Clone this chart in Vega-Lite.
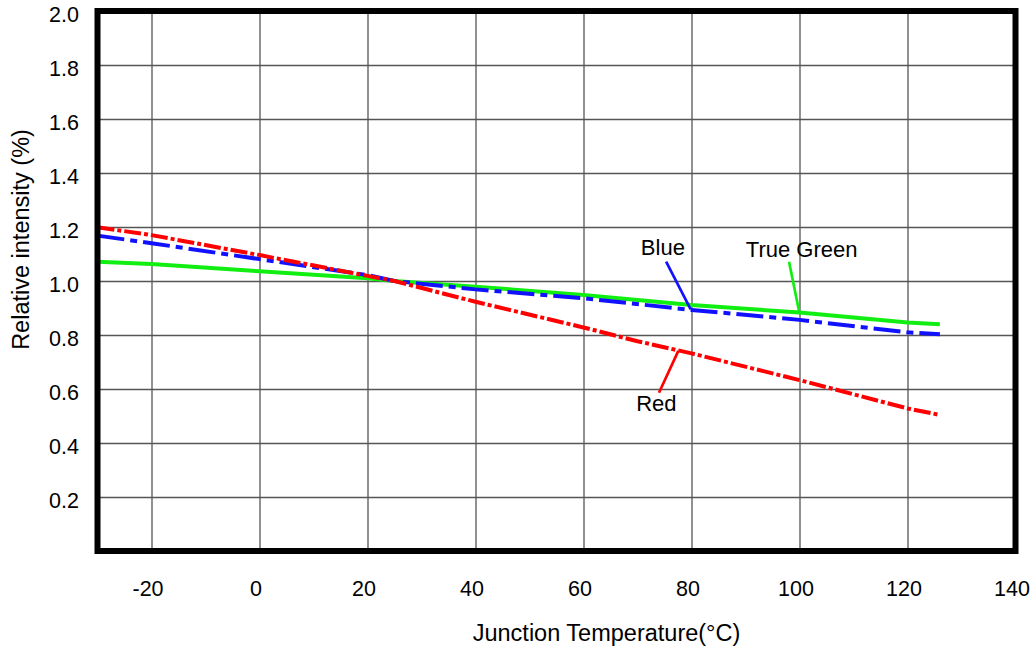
{
  "$schema": "https://vega.github.io/schema/vega-lite/v6.json",
  "width": 918,
  "height": 540,
  "autosize": {"type": "none"},
  "padding": {"left": 97.5, "top": 11, "right": 18.5, "bottom": 95},
  "background": "white",
  "datasets": {
    "lines": [
      {"series": "True Green", "t": -30, "v": 1.071},
      {"series": "True Green", "t": -20, "v": 1.063},
      {"series": "True Green", "t": 0, "v": 1.036},
      {"series": "True Green", "t": 20, "v": 1.010},
      {"series": "True Green", "t": 25, "v": 1.0},
      {"series": "True Green", "t": 40, "v": 0.979},
      {"series": "True Green", "t": 60, "v": 0.948},
      {"series": "True Green", "t": 80, "v": 0.911},
      {"series": "True Green", "t": 100, "v": 0.883},
      {"series": "True Green", "t": 120, "v": 0.846},
      {"series": "True Green", "t": 126, "v": 0.840},
      {"series": "Blue", "t": -30, "v": 1.168},
      {"series": "Blue", "t": -20, "v": 1.140},
      {"series": "Blue", "t": 0, "v": 1.081},
      {"series": "Blue", "t": 20, "v": 1.022},
      {"series": "Blue", "t": 25, "v": 1.0},
      {"series": "Blue", "t": 40, "v": 0.969},
      {"series": "Blue", "t": 60, "v": 0.936},
      {"series": "Blue", "t": 80, "v": 0.893},
      {"series": "Blue", "t": 100, "v": 0.856},
      {"series": "Blue", "t": 120, "v": 0.810},
      {"series": "Blue", "t": 126, "v": 0.803},
      {"series": "Red", "t": -30, "v": 1.199},
      {"series": "Red", "t": -20, "v": 1.170},
      {"series": "Red", "t": 0, "v": 1.096},
      {"series": "Red", "t": 20, "v": 1.019},
      {"series": "Red", "t": 25, "v": 1.0},
      {"series": "Red", "t": 40, "v": 0.923},
      {"series": "Red", "t": 60, "v": 0.828},
      {"series": "Red", "t": 70, "v": 0.777},
      {"series": "Red", "t": 80, "v": 0.732},
      {"series": "Red", "t": 100, "v": 0.633},
      {"series": "Red", "t": 120, "v": 0.528},
      {"series": "Red", "t": 126, "v": 0.504}
    ],
    "leaders": [
      {"series": "Blue", "t1": 75.3, "v1": 1.0715, "t2": 79.85, "v2": 0.895},
      {"series": "True Green", "t1": 98.06, "v1": 1.0715, "t2": 99.97, "v2": 0.883},
      {"series": "Red", "t1": 77.56, "v1": 0.741, "t2": 73.98, "v2": 0.586}
    ],
    "labels": [
      {"series": "Blue", "t": 74.7, "v": 1.096},
      {"series": "True Green", "t": 100.4, "v": 1.089},
      {"series": "Red", "t": 73.5, "v": 0.519}
    ]
  },
  "layer": [
    {
      "data": {"name": "lines"},
      "transform": [{"filter": "datum.series == 'True Green'"}],
      "mark": {"type": "line", "color": "#11ee11", "strokeWidth": 4},
      "encoding": {
        "x": {
          "field": "t", "type": "quantitative",
          "scale": {"domain": [-30, 140], "nice": false, "zero": false},
          "axis": {
            "values": [-20, 0, 20, 40, 60, 80, 100, 120, 140],
            "labelExpr": "datum.value < 0 ? '-' + abs(datum.value) : '' + datum.value",
            "title": "Junction Temperature(°C)",
            "titleX": 508.5, "titleY": 89, "titleAlign": "center", "titleBaseline": "alphabetic",
            "labelPadding": 27, "labelOffset": -4,
            "gridOpacity": {"condition": {"test": "datum.value >= 140", "value": 0}, "value": 1}
          }
        },
        "y": {
          "field": "v", "type": "quantitative",
          "scale": {"domain": [0, 2], "nice": false},
          "axis": {
            "values": [0.2, 0.4, 0.6, 0.8, 1.0, 1.2, 1.4, 1.6, 1.8, 2.0],
            "format": ".1f",
            "title": "Relative intensity (%)",
            "titleX": -69.5, "titleY": 228, "titleAngle": -90, "titleAlign": "center", "titleBaseline": "alphabetic",
            "labelPadding": 19, "labelOffset": 4,
            "gridOpacity": {"condition": {"test": "datum.value >= 2", "value": 0}, "value": 1}
          }
        }
      }
    },
    {
      "data": {"name": "lines"},
      "transform": [{"filter": "datum.series == 'Blue'"}],
      "mark": {"type": "line", "color": "#1111ff", "strokeWidth": 4, "strokeDash": [27, 6, 7, 6]},
      "encoding": {
        "x": {"field": "t", "type": "quantitative"},
        "y": {"field": "v", "type": "quantitative"}
      }
    },
    {
      "data": {"name": "lines"},
      "transform": [{"filter": "datum.series == 'Red'"}],
      "mark": {"type": "line", "color": "#ff0000", "strokeWidth": 4, "strokeDash": [17, 3, 4, 3]},
      "encoding": {
        "x": {"field": "t", "type": "quantitative"},
        "y": {"field": "v", "type": "quantitative"}
      }
    },
    {
      "data": {"name": "leaders"},
      "mark": {"type": "rule", "strokeWidth": 2.7},
      "encoding": {
        "x": {"field": "t1", "type": "quantitative"},
        "y": {"field": "v1", "type": "quantitative"},
        "x2": {"field": "t2"},
        "y2": {"field": "v2"},
        "color": {
          "field": "series", "type": "nominal",
          "scale": {"domain": ["True Green", "Blue", "Red"], "range": ["#11ee11", "#1111ff", "#ff0000"]},
          "legend": null
        }
      }
    },
    {
      "data": {"name": "labels"},
      "mark": {"type": "text", "fontSize": 22, "baseline": "alphabetic", "align": "center", "color": "black"},
      "encoding": {
        "x": {"field": "t", "type": "quantitative"},
        "y": {"field": "v", "type": "quantitative"},
        "text": {"field": "series"}
      }
    }
  ],
  "config": {
    "font": "Liberation Sans",
    "view": {"stroke": "black", "strokeWidth": 6},
    "style": {"cell": {"strokeForeground": true}},
    "axis": {
      "domain": false,
      "ticks": false,
      "tickSize": 0,
      "grid": true,
      "labelFlush": false,
      "gridColor": "#555555",
      "gridWidth": 1.3,
      "labelFont": "Liberation Sans",
      "labelFontSize": 21.5,
      "labelColor": "black",
      "titleFont": "Liberation Sans",
      "titleFontSize": 23.5,
      "titleFontWeight": "normal",
      "titleColor": "black"
    }
  }
}
